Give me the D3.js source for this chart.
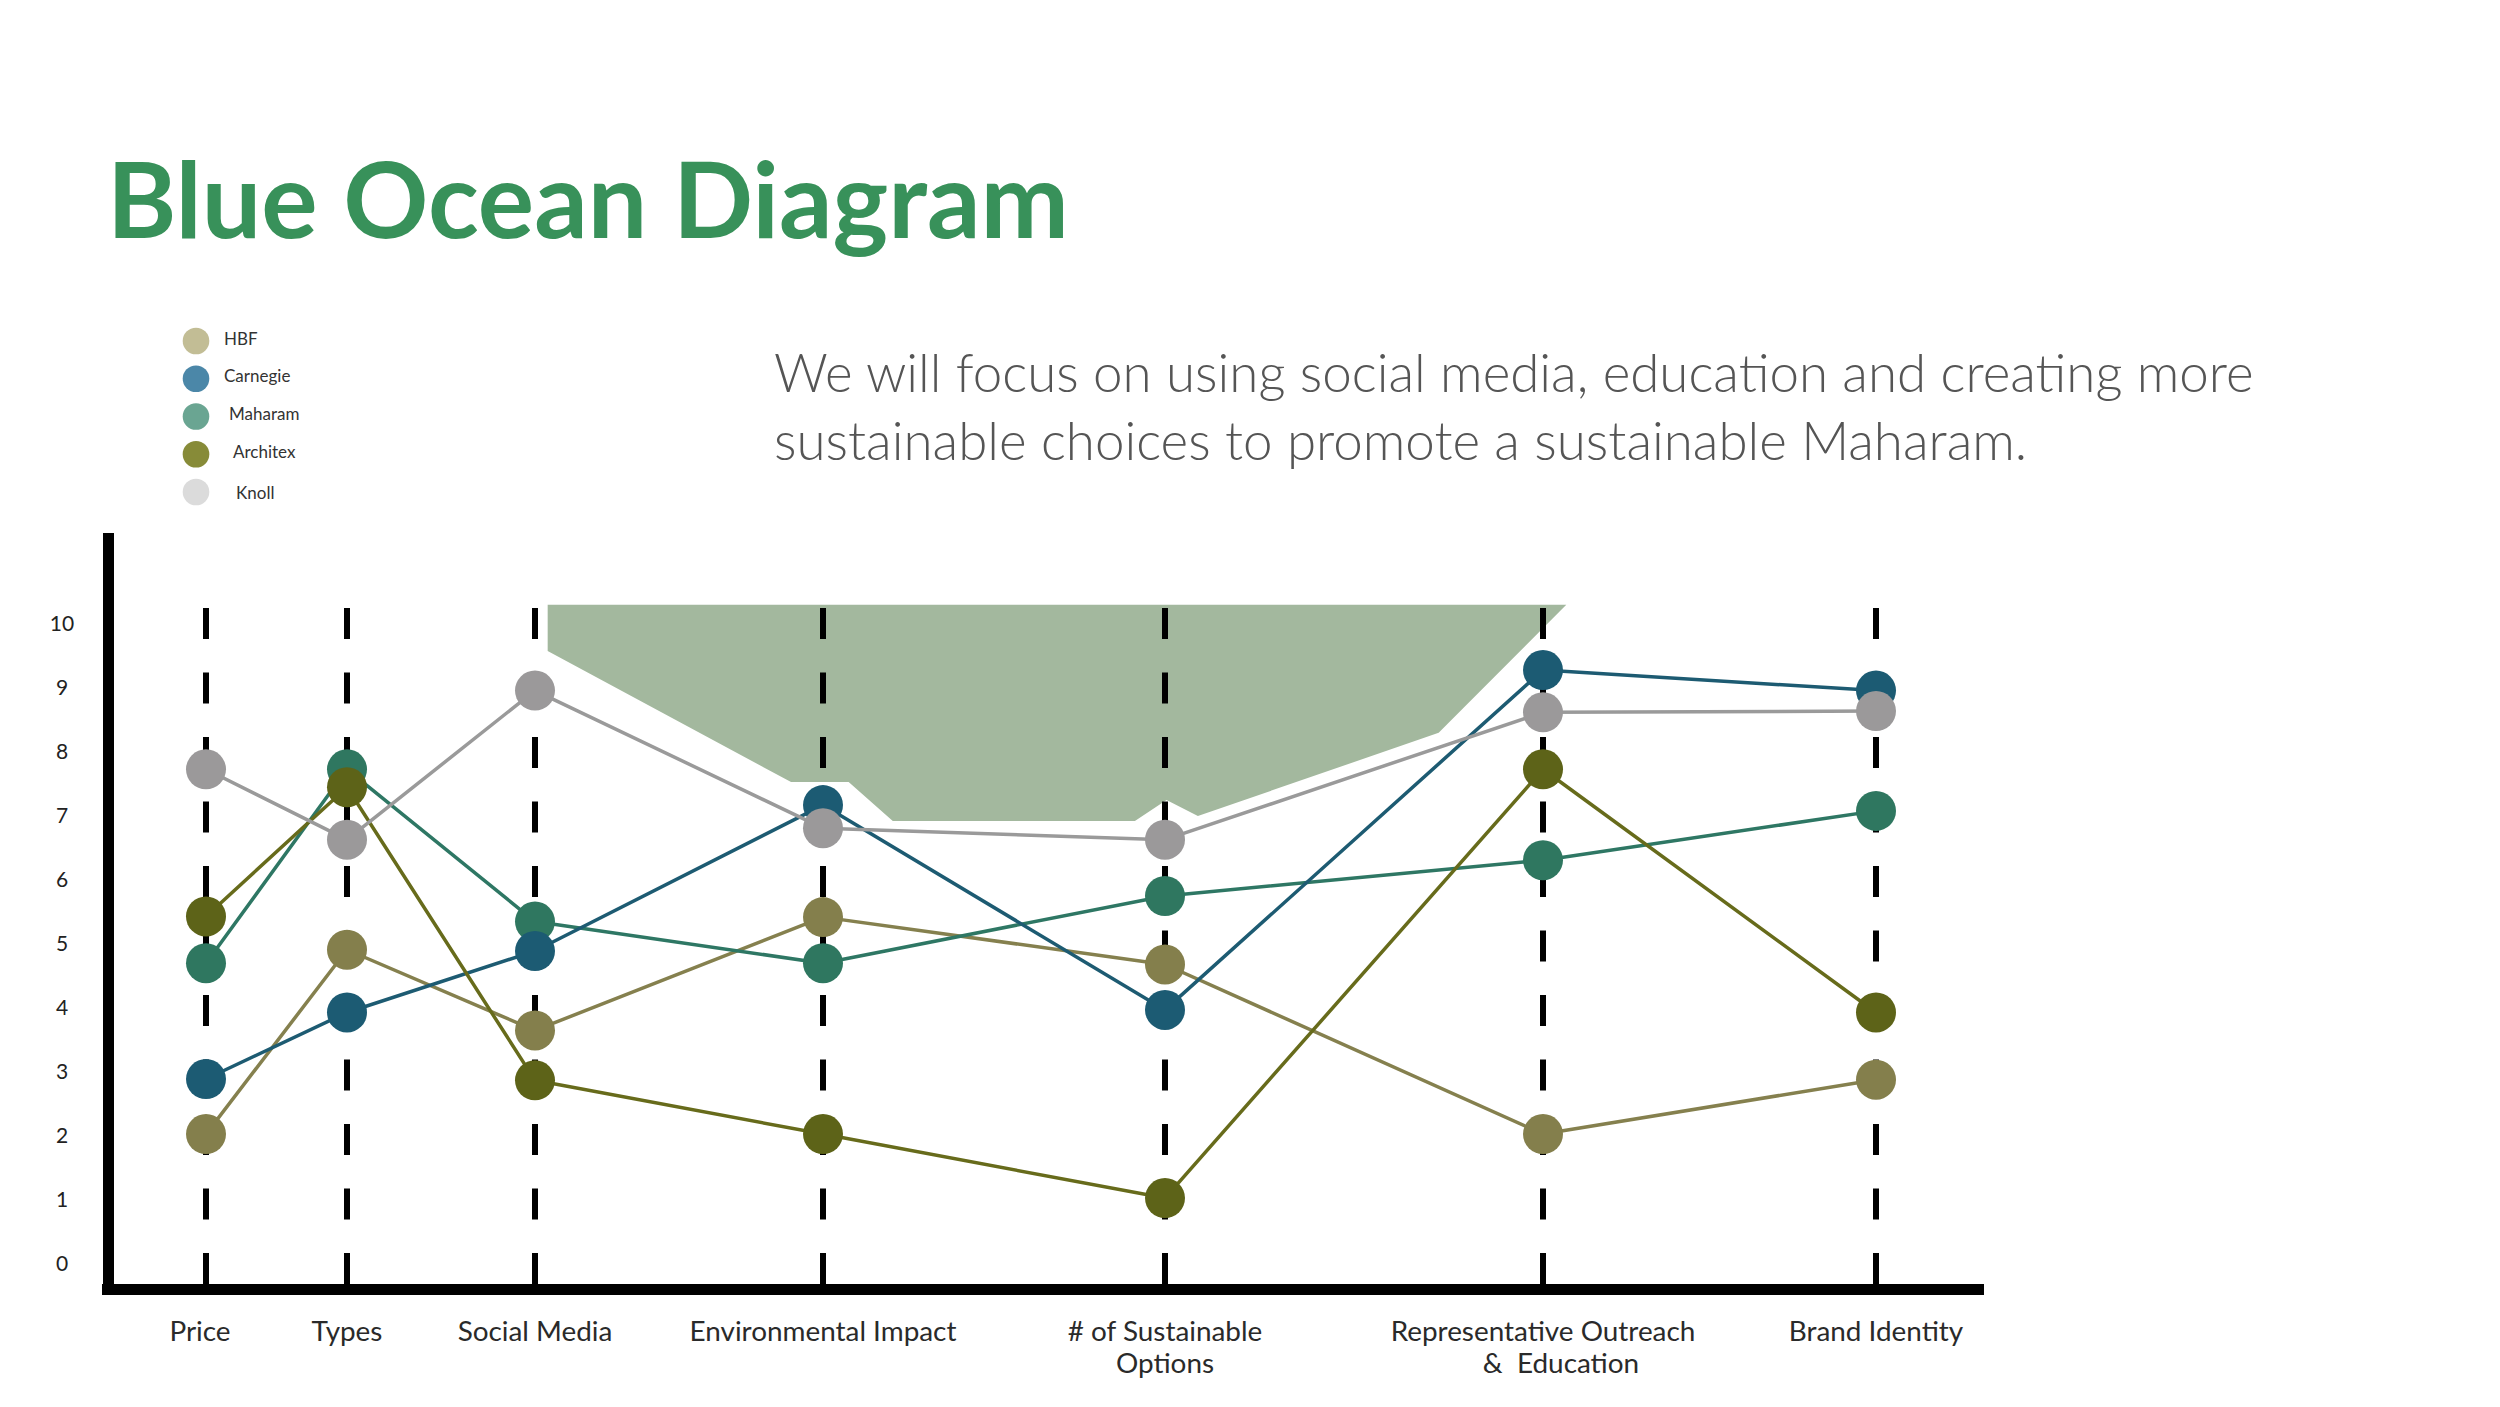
<!DOCTYPE html>
<html>
<head>
<meta charset="utf-8">
<script src="https://cdn.jsdelivr.net/npm/d3@7"></script>
<style>
  html, body { margin: 0; padding: 0; background: #fff; }
  svg { display: block; }
  text { font-family: Lato, "Open Sans", sans-serif; }
</style>
</head>
<body>
<svg id="chart" width="2500" height="1407"></svg>
<script>
// ---------------- DATA ----------------
const titleText = "Blue Ocean Diagram";
const subtitleLines = [
  "We will focus on using social media, education and creating more",
  "sustainable choices to promote a sustainable Maharam."
];
const categories = ["Price", "Types", "Social Media", "Environmental Impact",
  "# of Sustainable Options", "Representative Outreach & Education", "Brand Identity"];
const categoryLabelLines = [
  ["Price"], ["Types"], ["Social Media"], ["Environmental Impact"],
  ["# of Sustainable", "Options"], ["Representative Outreach", "&  Education"], ["Brand Identity"]
];
const seriesNames = ["HBF", "Carnegie", "Maharam", "Architex", "Knoll"];
const hbfValues      = [2.03, 4.91, 3.65, 5.42, 4.68, 2.03, 2.88];
const carnegieValues = [2.89, 3.93, 4.89, 7.17, 3.97, 9.28, 8.96];
const maharamValues  = [4.70, 7.73, 5.35, 4.70, 5.75, 6.31, 7.08];
const architexValues = [5.43, 7.45, 2.87, 2.03, 1.03, 7.73, 3.93];
const knollValues    = [7.73, 6.63, 8.96, 6.81, 6.63, 8.62, 8.64];
const yTickValues = [0, 1, 2, 3, 4, 5, 6, 7, 8, 9, 10];
// "blue ocean" highlighted area: [fractional category index, value]
const oceanArea = [
  [2.044, 10.30], [5.07, 10.30], [4.724, 8.30], [4.087, 7.00], [4.004, 7.25],
  [3.912, 6.92], [3.204, 6.92], [3.075, 7.53], [2.889, 7.53], [2.044, 9.58]
];

// ---------------- STYLE / LAYOUT ----------------
const pointColors  = { HBF: "#847f4c", Carnegie: "#1c5b73", Maharam: "#2f7760", Architex: "#5d6318", Knoll: "#9b999a" };
const lineColors   = { HBF: "#85804e", Carnegie: "#1d5b72", Maharam: "#2e7764", Architex: "#676b1b", Knoll: "#9a9a9a" };
const legendColors = { HBF: "#c2bd95", Carnegie: "#4b87a8", Maharam: "#6aa592", Architex: "#878b38", Knoll: "#dbdbdb" };
const drawOrder = ["HBF", "Maharam", "Carnegie", "Architex", "Knoll"];
const seriesValues = { HBF: hbfValues, Carnegie: carnegieValues, Maharam: maharamValues, Architex: architexValues, Knoll: knollValues };

const svg = d3.select("#chart");

// scales
const colIndex = d3.range(categories.length);
const x = d3.scaleLinear().domain(colIndex).range([206, 347, 535, 823, 1165, 1543, 1876]);
const y = d3.scaleLinear().domain([0, 10]).range([1264, 624]);
const xCat = d3.scaleOrdinal().domain(categories).range(colIndex.map(i => x(i)));

// ---- title ----
const title = svg.append("text")
  .attr("x", 107).attr("y", 238)
  .attr("fill", "#38915a")
  .attr("font-weight", 700)
  .attr("font-size", 97)
  .text(titleText);
{
  const w = title.node().getComputedTextLength();
  title.attr("font-size", 97 * 962 / w);
}

// ---- subtitle ----
const sub = svg.append("g").attr("fill", "#555");
subtitleLines.forEach((t, i) => {
  sub.append("text").attr("x", 774).attr("y", 392 + i * 68)
    .attr("font-size", 48).attr("font-weight", 300).text(t);
});
{
  const w = sub.select("text").node().getComputedTextLength();
  const fs = 48 * 1480 / w;
  sub.selectAll("text").attr("font-size", fs);
}

// ---- legend ----
const legendY = d3.scalePoint().domain(seriesNames).range([341, 492]);
const legendTextX = { HBF: 224, Carnegie: 224, Maharam: 229, Architex: 233, Knoll: 236 };
const legendTextDy = { HBF: 3.5, Carnegie: 3.5, Maharam: 3.5, Architex: 3.5, Knoll: 7 };
const lg = svg.append("g");
lg.selectAll("circle").data(seriesNames).join("circle")
  .attr("cx", 196).attr("cy", d => legendY(d)).attr("r", 13.3)
  .attr("fill", d => legendColors[d]);
lg.selectAll("text").data(seriesNames).join("text")
  .attr("x", d => legendTextX[d]).attr("y", d => legendY(d) + legendTextDy[d])
  .attr("font-size", 17).attr("fill", "#333")
  .text(d => d);

// ---- blue ocean area ----
svg.append("path")
  .attr("d", d3.line().x(d => x(d[0])).y(d => y(d[1]))(oceanArea) + "Z")
  .attr("fill", "#a3b89e");

// ---- dashed category guides ----
svg.append("g").selectAll("line").data(categories).join("line")
  .attr("x1", d => xCat(d)).attr("x2", d => xCat(d))
  .attr("y1", 608).attr("y2", 1284)
  .attr("stroke", "#000").attr("stroke-width", 6)
  .attr("stroke-dasharray", "31,33.5");

// ---- axes frame ----
svg.append("line").attr("x1", 108.5).attr("x2", 108.5).attr("y1", 533).attr("y2", 1290)
  .attr("stroke", "#000").attr("stroke-width", 11);
svg.append("line").attr("x1", 102).attr("x2", 1984).attr("y1", 1289.5).attr("y2", 1289.5)
  .attr("stroke", "#000").attr("stroke-width", 11);

// ---- y tick labels ----
const yAxis = svg.append("g").attr("transform", "translate(62,0)")
  .call(d3.axisLeft(y).tickValues(yTickValues).tickSize(0).tickPadding(0).tickFormat(d3.format("d")));
yAxis.select(".domain").remove();
yAxis.selectAll("text").attr("text-anchor", "middle").attr("x", 0)
  .attr("font-size", 21).attr("fill", "#222")
  .style("font-family", "Lato, 'Open Sans', sans-serif");

// ---- category labels ----
const cl = svg.append("g").attr("fill", "#2a2a2a");
const labelDx = [0, 0, 0, 0, 0, 18, 0];
categories.forEach((c, i) => {
  categoryLabelLines[i].forEach((t, j) => {
    cl.append("text")
      .attr("x", xCat(c) + (j > 0 ? labelDx[i] : 0) + (i === 0 ? -6 : 0))
      .attr("y", 1341 + j * 32)
      .attr("text-anchor", "middle")
      .attr("xml:space", "preserve")
      .style("white-space", "pre")
      .attr("font-size", 25)
      .text(t);
  });
});
{
  const envNode = cl.selectAll("text").filter(function() { return this.textContent === "Environmental Impact"; }).node();
  const w = envNode.getComputedTextLength();
  cl.selectAll("text").attr("font-size", 25 * 267 / w);
}

// ---- series lines ----
const line = d3.line().x((d, i) => x(i)).y(d => y(d));
svg.append("g").selectAll("path").data(drawOrder).join("path")
  .attr("d", s => line(seriesValues[s]))
  .attr("fill", "none")
  .attr("stroke", s => lineColors[s])
  .attr("stroke-width", 3.5)
  .attr("stroke-linejoin", "round");

// ---- series points ----
const pts = svg.append("g");
drawOrder.forEach(s => {
  pts.append("g").selectAll("circle").data(seriesValues[s]).join("circle")
    .attr("cx", (d, i) => x(i)).attr("cy", d => y(d)).attr("r", 20)
    .attr("fill", pointColors[s]);
});
</script>
</body>
</html>
